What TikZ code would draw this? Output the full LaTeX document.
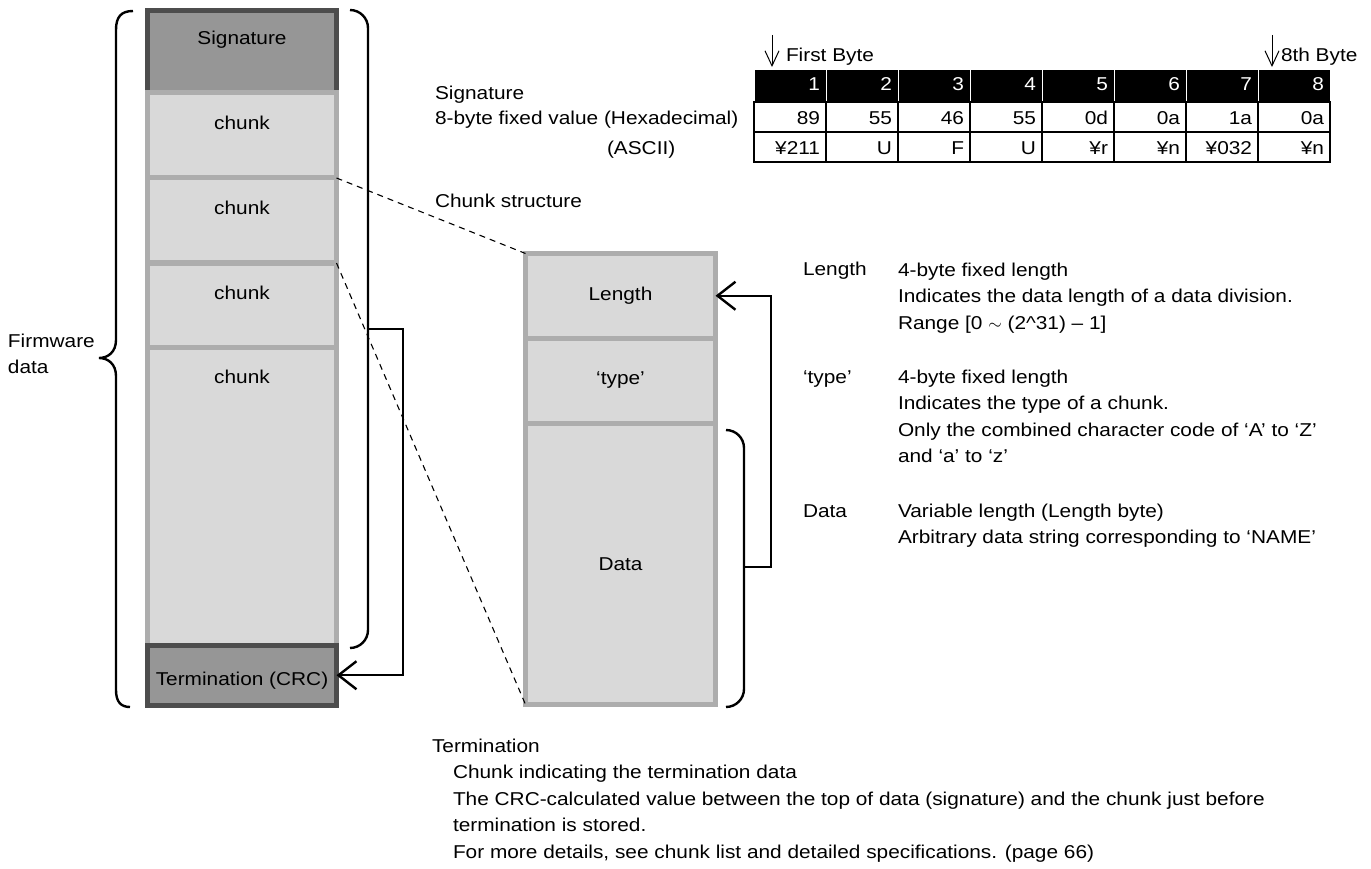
\documentclass[tikz,border=0pt]{standalone}
\usepackage{fontspec}
\setmainfont{Liberation Sans}[FakeStretch=1.12]
\usetikzlibrary{calc,positioning,arrows.meta}

\definecolor{sigfill}{HTML}{969696}
\definecolor{sigline}{HTML}{4D4D4D}
\definecolor{chunkfill}{HTML}{D9D9D9}
\definecolor{chunkline}{HTML}{ADADAD}

\tikzset{
  sigbox/.style={draw=sigline, fill=sigfill, line width=5pt, minimum width=189pt},
  chunkbox/.style={draw=chunkline, fill=chunkfill, line width=5pt, minimum width=189pt},
  fieldbox/.style={draw=chunkline, fill=chunkfill, line width=5pt, minimum width=190pt},
  hdcell/.style={anchor=north west, fill=black, draw=white, line width=1pt, text=white,
    text width=60pt, align=right, inner xsep=6pt, text height=21pt, text depth=11pt},
  bytecell/.style={draw=black, line width=1.2pt, text width=60pt, align=right,
    inner xsep=6pt, text height=23pt, text depth=7pt},
  txt/.style={anchor=base west, align=left},
  brk/.style={line width=2.4pt, rounded corners=18pt},
  link/.style={line width=2.4pt, -{Straight Barb[length=18pt,width=28pt]}},
  bytearrow/.style={line width=1pt, -{Straight Barb[length=15pt,width=14pt]}, shorten >=3pt},
  zoomline/.style={line width=1.1pt, dash pattern=on 6pt off 5pt}
}

\begin{document}
\begin{tikzpicture}[x=1pt, y=-1pt, inner sep=0pt, outer sep=0pt,
    font=\fontsize{18.6}{26.5}\selectfont]
    \useasboundingbox (0,0) rectangle (1371,869);

    % firmware column
    \node[sigbox, text height=34.5pt, text depth=48pt] (sig) at (242,51.75) {Signature};
    \node[chunkbox, below=0pt of sig, text height=37pt, text depth=48pt] (chka) {chunk};
    \node[chunkbox, below=0pt of chka, text height=37pt, text depth=48pt] (chkb) {chunk};
    \node[chunkbox, below=0pt of chkb, text height=36pt, text depth=48pt] (chkc) {chunk};
    \node[chunkbox, below=0pt of chkc, text height=36pt, text depth=262pt] (chkd) {chunk};
    \node[sigbox, below=0pt of chkd, text height=40pt, text depth=20.5pt] (term) {Termination (CRC)};

    % brace round the whole file
    \draw[line width=2.4pt] (133,11) .. controls (121,11) and (116,17) .. (116,30)
      -- (116,340) .. controls (116,352) and (108,358) .. (99,358)
      .. controls (108,358) and (116,364) .. (116,376)
      -- (116,690) .. controls (116,702) and (121,707) .. (130,707);
    % multi-line nodes sit on their last line
    \node[txt] (firm) at (8,373.5) {Firmware\\data};

    % bracket over the chunks
    \draw[brk] (350,10) -- (368,10) -- (368,648) -- (350,648);
    \coordinate (chkend) at (368,329);
    \draw[link] (chkend) -- ++(35,0) |- (term.east);

    % chunk structure
    \node[fieldbox, minimum height=84.5pt] (len) at (620.5,295.75) {Length};
    \node[fieldbox, below=0pt of len, minimum height=85pt] (typ) {`type'};
    \node[fieldbox, below=0pt of typ, minimum height=281.5pt] (dat) {Data};

    \draw[zoomline] (chkb.north east) -- (len.north west);
    \draw[zoomline] (chkb.south east) -- (dat.south west);

    % bracket over the data field
    \draw[brk] (726,430) -- (744,430) -- (744,707) -- (726,707);
    \coordinate (datend) at (744,567);
    \draw[link] (datend) -- ++(27,0) |- (len.east);

    % signature bytes
    \foreach \i/\hx/\as in {1/89/¥211, 2/55/U, 3/46/F, 4/55/U, 5/0d/¥r, 6/0a/¥n, 7/1a/¥032, 8/0a/¥n} {
      \node[hdcell] (hd\i) at ({754+72*(\i-1)},70) {\i};
      \node[bytecell, below=0pt of hd\i] (hx\i) {\hx};
      \node[bytecell, below=0pt of hx\i] (as\i) {\as};
    }

    \node[txt] (siglbl) at (435,100) {Signature};
    \node[txt] (hexlbl) at (435,125) {8-byte fixed value (Hexadecimal)};
    \node[txt] (asclbl) at (607,155) {(ASCII)};

    \coordinate (firstb) at ($(hd1.north west)+(18,-35)$);
    \draw[bytearrow] (firstb) -- (firstb |- hd1.north);
    \node[txt] (firstlbl) at ($(firstb)+(14,27)$) {First Byte};
    \coordinate (lastb) at ($(hd8.north west)+(14,-35)$);
    \draw[bytearrow] (lastb) -- (lastb |- hd8.north);
    \node[txt] (lastlbl) at ($(lastb)+(9,27)$) {8th Byte};

    \node[txt] (chklbl) at (435,208) {Chunk structure};

    % field notes
    \node[txt] (lenlbl) at (803,276) {Length};
    \node[txt] (lennote) at ($(lenlbl.base west)+(95,53)$)
    {4-byte fixed length\\Indicates the data length of a data division.\\Range [0 $\sim$ (2\textasciicircum 31) – 1]};
    \node[txt] (typlbl) at (803,383) {`type'};
    \node[txt] (typnote) at ($(typlbl.base west)+(95,79.5)$)
    {4-byte fixed length\\Indicates the type of a chunk.\\Only the combined character code of `A' to `Z'\\and `a' to `z'};
    \node[txt] (datlbl) at (803,517) {Data};
    \node[txt] (datnote) at ($(datlbl.base west)+(95,26.5)$)
    {Variable length (Length byte)\\Arbitrary data string corresponding to `NAME'};

    % termination note
    \node[txt] (termlbl) at (432,752) {Termination};
    \node[txt] (termnote) at ($(termlbl.base west)+(21,106)$)
    {Chunk indicating the termination data\\The CRC-calculated value between the top of data (signature) and the chunk just before\\termination is stored.\\For more details, see chunk list and detailed specifications. (page 66)};
\end{tikzpicture}
\end{document}
